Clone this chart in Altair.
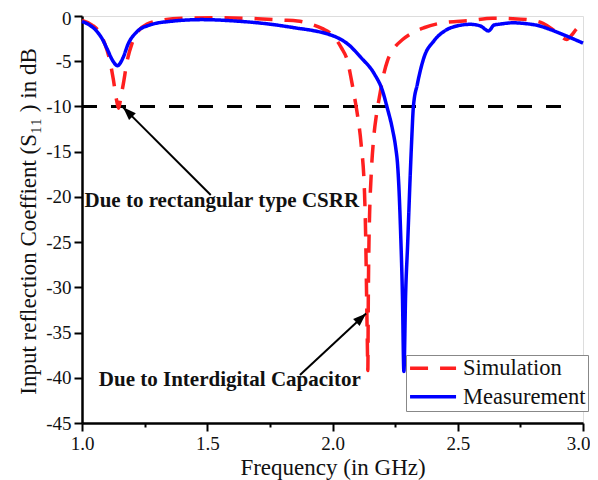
import math
import altair as alt
import pandas as pd

# ---------------- data ----------------
sim_freq = [1.00, 1.04, 1.07, 1.09, 1.11, 1.125, 1.138, 1.146, 1.155, 1.165, 1.18, 1.20,
            1.23, 1.26, 1.32, 1.40, 1.55, 1.70, 1.80, 1.86, 1.915, 1.96, 1.995, 2.035,
            2.06, 2.075, 2.09, 2.10, 2.114, 2.128, 2.133, 2.136, 2.139, 2.141, 2.143,
            2.145, 2.148, 2.154, 2.165, 2.175, 2.187, 2.20, 2.22, 2.245, 2.28, 2.31,
            2.365, 2.44, 2.55, 2.64, 2.72, 2.79, 2.84, 2.88, 2.91, 2.935, 2.955, 2.975, 3.00]
sim_db = [-0.5, -1.0, -1.8, -3.0, -4.8, -7.0, -9.3, -10.2, -9.0, -7.5, -5.0, -3.0,
          -1.5, -0.9, -0.45, -0.25, -0.2, -0.3, -0.45, -0.55, -0.9, -1.4, -2.0, -3.5,
          -5.0, -7.0, -9.3, -11.0, -14.1, -19.7, -25.2, -30.7, -36.0, -39.2, -31.0,
          -26.0, -22.0, -17.8, -13.3, -11.0, -9.0, -7.0, -4.9, -3.6, -2.6, -2.0,
          -1.3, -0.75, -0.5, -0.26, -0.3, -0.45, -0.8, -1.5, -2.2, -2.6, -2.1, -1.4, -0.9]

meas_freq = [1.00, 1.03, 1.058, 1.08, 1.098, 1.124, 1.141, 1.164, 1.184, 1.217, 1.27,
             1.35, 1.48, 1.61, 1.75, 1.86, 1.93, 1.982, 2.02, 2.061, 2.114, 2.167,
             2.20, 2.217, 2.24, 2.252, 2.26, 2.266, 2.272, 2.279, 2.285, 2.292, 2.30,
             2.31, 2.316, 2.323, 2.339, 2.365, 2.405, 2.457, 2.497, 2.55, 2.59, 2.623,
             2.645, 2.668, 2.72, 2.774, 2.82, 2.867, 2.933, 3.00]
meas_db = [-0.6, -1.0, -1.65, -2.5, -3.5, -5.0, -5.5, -4.6, -3.1, -1.8, -1.0,
           -0.6, -0.4, -0.55, -0.9, -1.35, -1.65, -2.0, -2.4, -3.1, -4.6, -6.4,
           -8.3, -10.0, -12.6, -14.5, -16.5, -19.5, -24.0, -30.7, -39.3, -30.7, -25.2,
           -17.8, -13.8, -10.0, -7.5, -4.6, -2.75, -1.5, -1.1, -0.92, -1.1, -1.65,
           -1.0, -0.9, -0.75, -0.85, -1.05, -1.47, -2.2, -3.0]

series_names = ["Simulation", "Measurement"]
series_colors = ["#ff1f1f", "#0000ff"]

ref_level = -10
ref_start, ref_end = 1.0, 2.955

annot_text = ["Due to rectangular type CSRR", "Due to Interdigital Capacitor"]
annot_x = [1.558, 1.590]
annot_y = [-21.1, -40.9]

arrow_tail_x = [1.514, 1.870]
arrow_tail_y = [-19.8, -39.7]
arrow_tip_x = [1.164, 2.134]
arrow_tip_y = [-10.1, -32.9]

x_ticks = [1.0 + 0.25 * i for i in range(9)]
y_ticks = [-45 + 2.5 * i for i in range(19)]

# ---------------- layout ----------------
W, H = 501, 407
X_DOM, Y_DOM = [1.0, 3.0], [-45, 0]
SERIF = "Liberation Serif"

lines = pd.DataFrame(
    {"freq": sim_freq + meas_freq,
     "db": sim_db + meas_db,
     "series": ["Simulation"] * len(sim_freq) + ["Measurement"] * len(meas_freq)}
)

px_x = W / (X_DOM[1] - X_DOM[0])
px_y = H / (Y_DOM[1] - Y_DOM[0])
angles = []
for tx, ty, hx, hy in zip(arrow_tail_x, arrow_tail_y, arrow_tip_x, arrow_tip_y):
    dx = (hx - tx) * px_x
    dy = -(hy - ty) * px_y
    angles.append((math.degrees(math.atan2(dx, -dy)) + 360) % 360)

arrows = pd.DataFrame({"x": arrow_tail_x, "y": arrow_tail_y,
                       "x2": arrow_tip_x, "y2": arrow_tip_y, "angle": angles})
annots = pd.DataFrame({"x": annot_x, "y": annot_y, "text": annot_text})
ref = pd.DataFrame({"x": [ref_start], "x2": [ref_end], "y": [ref_level]})

x_scale = alt.Scale(domain=X_DOM, nice=False, zero=False)
y_scale = alt.Scale(domain=Y_DOM, nice=False, zero=False)

x_axis = alt.Axis(
    title="Frequency (in GHz)", values=x_ticks,
    labelExpr="round(datum.value*4) % 2 == 0 ? format(datum.value, '.1f') : ''",
    tickSize={"condition": {"test": "round(datum.value*4) % 2 == 0", "value": 8}, "value": 4},
    labelAlign={"condition": {"test": "datum.value >= 2.99", "value": "right"}, "value": "center"},
    labelOffset={"condition": {"test": "datum.value >= 2.99", "value": 7}, "value": 0},
    grid=False, domainColor="black", domainWidth=2.5, tickColor="black", tickWidth=2,
    labelFont=SERIF, labelFontSize=19, labelColor="#111", labelPadding=3,
    labelFlush=False, labelOverlap=False,
    titleFont=SERIF, titleFontSize=23, titleFontWeight="normal", titleColor="#111",
    titleX=W / 2, titleY=51, titleBaseline="alphabetic", titleAlign="center",
)
y_axis = alt.Axis(
    title="Input reflection Coeffient (S\u2081\u2081 ) in dB", values=y_ticks,
    labelExpr="round(datum.value*2) % 10 == 0 ? ('' + datum.value) : ''",
    tickSize={"condition": {"test": "round(datum.value*2) % 10 == 0", "value": 8}, "value": 4},
    labelOffset={"condition": {"test": "datum.value >= -0.1", "value": 2}, "value": 0},
    grid=False, domainColor="black", domainWidth=2.5, tickColor="black", tickWidth=2,
    labelFont=SERIF, labelFontSize=19, labelColor="#111", labelPadding=3,
    labelFlush=False, labelOverlap=False,
    titleFont=SERIF, titleFontSize=23, titleFontWeight="normal", titleColor="#111",
    titleX=-47, titleY=205, titleBaseline="alphabetic", titleAlign="center", titleAngle=270,
)

legend_opts = dict(
    title=None, orient="none", legendX=324, legendY=339,
    symbolType="M-1,0 L4,0", symbolSize=338.6, symbolStrokeWidth=3.5,
    labelFont=SERIF, labelFontSize=22.5, labelColor="#111", labelOffset=32.6,
    strokeColor="#888888", padding=2, rowPadding=5.5, fillColor="white",
)
color = alt.Color(
    "series:N",
    scale=alt.Scale(domain=series_names, range=series_colors),
    legend=alt.Legend(**legend_opts),
)
dash = alt.StrokeDash(
    "series:N",
    scale=alt.Scale(domain=series_names, range=[[18, 12], [1, 0]]),
    legend=alt.Legend(**legend_opts),
)

ref_rule = alt.Chart(ref).mark_rule(color="black", strokeWidth=3, strokeDash=[15, 14]).encode(
    x=alt.X("x:Q", scale=x_scale, axis=x_axis), x2="x2:Q",
    y=alt.Y("y:Q", scale=y_scale, axis=y_axis),
)

line_layer = alt.Chart(lines).mark_line(strokeWidth=3.5, interpolate="monotone").encode(
    x=alt.X("freq:Q", scale=x_scale, axis=x_axis),
    y=alt.Y("db:Q", scale=y_scale, axis=y_axis),
    color=color, strokeDash=dash,
)

arrow_lines = alt.Chart(arrows).mark_rule(color="black", strokeWidth=2).encode(
    x="x:Q", y="y:Q", x2="x2:Q", y2="y2:Q"
)
arrow_heads = alt.Chart(arrows).mark_point(
    shape="M0,0 L-0.36,1 L0.36,1 Z", filled=True, color="black", opacity=1, size=700
).encode(x="x2:Q", y="y2:Q", angle=alt.Angle("angle:Q", scale=None))

texts = alt.Chart(annots).mark_text(
    font=SERIF, fontSize=21, fontWeight="bold", color="#111", align="center", baseline="alphabetic"
).encode(x="x:Q", y="y:Q", text="text:N")

chart = alt.layer(ref_rule, line_layer, arrow_lines, arrow_heads, texts).properties(
    width=W, height=H,
    autosize=alt.AutoSizeParams(type="none"),
    padding={"left": 74, "top": 8, "right": 7, "bottom": 57},
).configure_view(stroke="black", strokeWidth=2.5).configure(background="white")

chart.save("out.html", embed_options={"renderer": "svg", "actions": False})
